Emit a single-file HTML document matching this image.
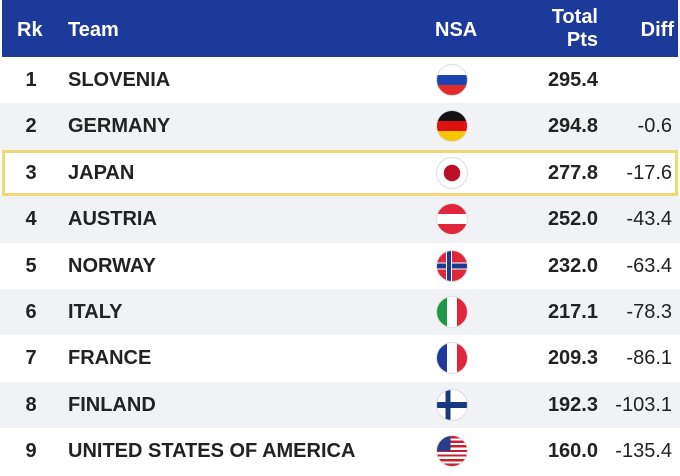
<!DOCTYPE html>
<html><head><style>
body{margin:0;width:680px;height:476px;background:#fff;font-family:"Liberation Sans",Arial,sans-serif;position:relative;overflow:hidden}
.hd{position:absolute;left:2px;top:0;width:676px;height:57px;background:#1b3a9a;color:#fff;font-weight:bold;font-size:20px}
.hd div{position:absolute}
.row{position:absolute;left:0;width:680px;height:46.4px;font-size:20px;color:#222}
.row div{position:absolute;top:0;line-height:46.4px}
.rk{left:14px;width:34px;text-align:center;font-weight:bold}
.tm{left:68px;font-weight:bold}
.pt{right:82px;font-weight:bold;text-align:right}
.df{right:8px;text-align:right}
.fl{left:436px;top:7px!important;width:30px;height:30px;border-radius:50%;border:1.5px solid #ddd;overflow:hidden;line-height:normal!important}
.g{background:#f1f2f6}
.hl{outline:3px solid #f1d877;outline-offset:-3px}
</style></head><body>
<div class="hd">
<div style="left:15px;top:19px">Rk</div>
<div style="left:66px;top:19px">Team</div>
<div style="left:433px;top:19px">NSA</div>
<div style="right:80px;top:6px;text-align:right;line-height:23px">Total<br>Pts</div>
<div style="right:4px;top:19px">Diff</div>
</div>

<div class="row" style="top:57px"><div class="rk">1</div><div class="tm">SLOVENIA</div><div class="fl" style="background:linear-gradient(#fff 33%,#1d45b0 33%,#1d45b0 66%,#e52a2a 66%)"></div><div class="pt">295.4</div></div>
<div class="row g" style="top:103.4px"><div class="rk">2</div><div class="tm">GERMANY</div><div class="fl" style="background:linear-gradient(#111 33%,#dd1111 33%,#dd1111 66%,#f7c600 66%)"></div><div class="pt">294.8</div><div class="df">-0.6</div></div>
<div class="row hl" style="top:149.8px;left:2px;width:676px"><div class="rk" style="left:12px">3</div><div class="tm" style="left:66px">JAPAN</div><div class="fl" style="left:434px;background:radial-gradient(circle,#bc0f2a 0 8px,#fff 8.5px)"></div><div class="pt" style="right:80px">277.8</div><div class="df" style="right:6px">-17.6</div></div>
<div class="row g" style="top:196.2px"><div class="rk">4</div><div class="tm">AUSTRIA</div><div class="fl" style="background:linear-gradient(#e0263a 33%,#fff 33%,#fff 66%,#e0263a 66%)"></div><div class="pt">252.0</div><div class="df">-43.4</div></div>
<div class="row" style="top:242.6px"><div class="rk">5</div><div class="tm">NORWAY</div><div class="fl" style="background:linear-gradient(90deg,transparent 30%,#fff 30%,#fff 33%,#1d3b8e 33%,#1d3b8e 46%,#fff 46%,#fff 50%,transparent 50%),linear-gradient(transparent 38%,#fff 38%,#fff 42%,#1d3b8e 42%,#1d3b8e 58%,#fff 58%,#fff 62%,transparent 62%),#e0263a"></div><div class="pt">232.0</div><div class="df">-63.4</div></div>
<div class="row g" style="top:289px"><div class="rk">6</div><div class="tm">ITALY</div><div class="fl" style="background:linear-gradient(90deg,#1a9a48 33%,#fff 33%,#fff 66%,#e0263a 66%)"></div><div class="pt">217.1</div><div class="df">-78.3</div></div>
<div class="row" style="top:335.4px"><div class="rk">7</div><div class="tm">FRANCE</div><div class="fl" style="background:linear-gradient(90deg,#1d3b9e 33%,#fff 33%,#fff 66%,#e0263a 66%)"></div><div class="pt">209.3</div><div class="df">-86.1</div></div>
<div class="row g" style="top:381.8px"><div class="rk">8</div><div class="tm">FINLAND</div><div class="fl" style="background:linear-gradient(90deg,transparent 28%,#173a80 28%,#173a80 45%,transparent 45%),linear-gradient(transparent 40%,#173a80 40%,#173a80 60%,transparent 60%),#fff"></div><div class="pt">192.3</div><div class="df">-103.1</div></div>
<div class="row" style="top:428.2px"><div class="rk">9</div><div class="tm">UNITED STATES OF AMERICA</div><div class="fl" style="background:linear-gradient(90deg,#2a3d8a 45%,transparent 45%) 0 0/100% 50% no-repeat,repeating-linear-gradient(#c8202f 0 2.3px,#fff 2.3px 4.6px)"></div><div class="pt">160.0</div><div class="df">-135.4</div></div>
</body></html>
